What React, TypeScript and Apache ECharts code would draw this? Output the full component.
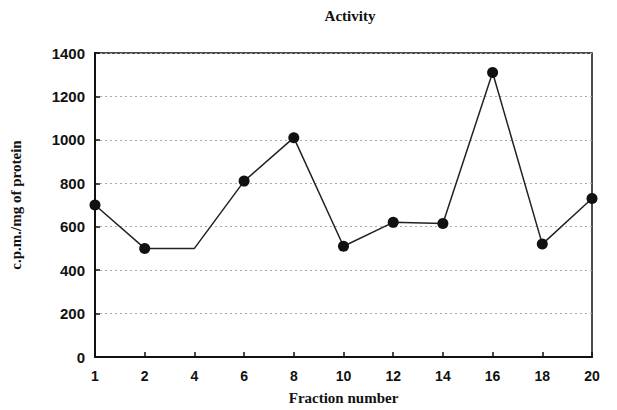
import React, { useEffect, useRef } from "react";
import * as echarts from "echarts";

const fractions = ["1", "2", "4", "6", "8", "10", "12", "14", "16", "18", "20"];
const activity = [700, 500, 500, 810, 1010, 510, 620, 615, 1310, 520, 730];
const markerShown = [true, true, false, true, true, true, true, true, true, true, true];
const yTicks = [0, 200, 400, 600, 800, 1000, 1200, 1400];

export default function App() {
  const ref = useRef<HTMLDivElement>(null);
  useEffect(() => {
    if (!ref.current) return;
    const chart = echarts.init(ref.current, null, { renderer: "svg" });
    chart.setOption({
      animation: false,
      backgroundColor: "#fff",
      title: {
        text: "Activity",
        left: 345,
        top: 3,
        textAlign: "center",
        textStyle: { fontFamily: "Liberation Serif", fontWeight: "bold", fontSize: 15, color: "#111" },
      },
      grid: {
        left: 94,
        right: 25,
        top: 53,
        bottom: 45,
        show: true,
        borderColor: "#111",
        borderWidth: 1.5,
        backgroundColor: "transparent",
      },
      xAxis: {
        type: "category",
        data: fractions,
        boundaryGap: false,
        name: "Fraction number",
        nameLocation: "middle",
        nameGap: 33,
        nameTextStyle: { fontFamily: "Liberation Serif", fontWeight: "bold", fontSize: 15, color: "#111" },
        axisLine: { lineStyle: { color: "#111", width: 2 } },
        axisTick: { inside: true, length: 5, lineStyle: { color: "#111", width: 1.5 } },
        axisLabel: { fontFamily: "Liberation Sans", fontWeight: "bold", fontSize: 14, color: "#111", margin: 12 },
        splitLine: { show: false },
      },
      yAxis: {
        type: "value",
        min: yTicks[0],
        max: yTicks[yTicks.length - 1],
        interval: 200,
        name: "c.p.m./mg of protein",
        nameLocation: "middle",
        nameGap: 72,
        nameTextStyle: { fontFamily: "Liberation Serif", fontWeight: "bold", fontSize: 15, color: "#111" },
        axisLine: { show: true, lineStyle: { color: "#111", width: 2 } },
        axisTick: { show: true, inside: true, length: 5, lineStyle: { color: "#111", width: 1.5 } },
        axisLabel: {
          fontFamily: "Liberation Sans",
          fontWeight: "bold",
          fontSize: 15,
          color: "#111",
          margin: 10,
          formatter: (v: number) => String(v),
        },
        splitLine: { show: true, lineStyle: { color: "#aaa", type: [2, 3], width: 1 } },
      },
      series: [
        {
          type: "line",
          data: activity.map((v, i) => ({
            value: v,
            symbolSize: markerShown[i] ? 11 : 0,
          })),
          symbol: "circle",
          lineStyle: { color: "#222", width: 1.5 },
          itemStyle: { color: "#111", borderWidth: 0 },
        },
      ],
    });
    return () => chart.dispose();
  }, []);
  return (
    <div
      ref={ref}
      style={{ position: "absolute", left: 0, top: 0, width: 617, height: 410 }}
    />
  );
}
